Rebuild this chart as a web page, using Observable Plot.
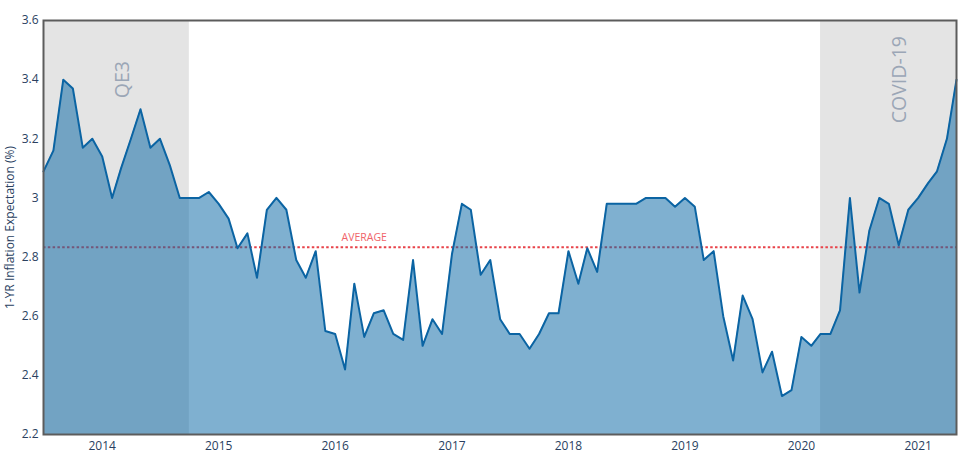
<!DOCTYPE html>
<html>
<head>
<meta charset="utf-8">
<script src="https://cdn.jsdelivr.net/npm/d3@7"></script>
<script src="https://cdn.jsdelivr.net/npm/@observablehq/plot@0.6"></script>
<style>
  html, body { margin: 0; padding: 0; background: #fff; }
  #chart svg { display: block; }
</style>
</head>
<body>
<div id="chart"></div>
<script>
// Monthly 1-year inflation expectation, Jul 2013 – May 2021
const firstMonth = "2013-07-01";
const values = [
  3.09, 3.16, 3.40, 3.37, 3.17, 3.20,                                   // 2013 Jul-Dec
  3.14, 3.00, 3.10, 3.20, 3.30, 3.17, 3.20, 3.11, 3.00, 3.00, 3.00, 3.02, // 2014
  2.98, 2.93, 2.83, 2.88, 2.73, 2.96, 3.00, 2.96, 2.79, 2.73, 2.82, 2.55, // 2015
  2.54, 2.42, 2.71, 2.53, 2.61, 2.62, 2.54, 2.52, 2.79, 2.50, 2.59, 2.54, // 2016
  2.81, 2.98, 2.96, 2.74, 2.79, 2.59, 2.54, 2.54, 2.49, 2.54, 2.61, 2.61, // 2017
  2.82, 2.71, 2.83, 2.75, 2.98, 2.98, 2.98, 2.98, 3.00, 3.00, 3.00, 2.97, // 2018
  3.00, 2.97, 2.79, 2.82, 2.60, 2.45, 2.67, 2.59, 2.41, 2.48, 2.33, 2.35, // 2019
  2.53, 2.50, 2.54, 2.54, 2.62, 3.00, 2.68, 2.89, 3.00, 2.98, 2.84, 2.96, // 2020
  3.00, 3.05, 3.09, 3.20, 3.40                                           // 2021 Jan-May
];
const averageValue = 2.833;
const averageLabel = "AVERAGE";

const periodNames = ["QE3", "COVID-19"];
const periodStarts = ["2013-07-01", "2020-03-01"];
const periodEnds = ["2014-10-01", "2021-05-01"];
const periodLabelDates = ["2014-03-05", "2020-11-05"];
const periodLabelValue = 3.4;

const yTicks = [2.2, 2.4, 2.6, 2.8, 3, 3.2, 3.4, 3.6];
const xTickYears = [2014, 2015, 2016, 2017, 2018, 2019, 2020, 2021];
const yTitle = "1-YR Inflation Expectation (%)";

const start = new Date(firstMonth);
const data = values.map((v, i) => ({ date: d3.utcMonth.offset(start, i), value: v }));
const periods = periodNames.map((n, i) => ({
  name: n, start: new Date(periodStarts[i]), end: new Date(periodEnds[i]),
  labelDate: new Date(periodLabelDates[i]), labelValue: periodLabelValue
}));
const xTicks = xTickYears.map(y => new Date(Date.UTC(y, 0, 1)));

const lineColor = "#0b64a3";

const chart = Plot.plot({
  width: 970,
  height: 466,
  marginLeft: 43,
  marginRight: 14,
  marginTop: 20,
  marginBottom: 32,
  style: { fontFamily: "'Open Sans', sans-serif", fontSize: "12px", color: "#2a3f5f", background: "#fff", overflow: "visible" },
  x: { type: "utc", domain: [start, data[data.length - 1].date] },
  y: { domain: [2.2, 3.6] },
  marks: [
    Plot.rect(periods, { x1: "start", x2: "end", fill: "#e4e4e4" }),
    Plot.ruleY([averageValue], { stroke: "#e8434a", strokeWidth: 2, strokeDasharray: "2.5,2.3" }),
    Plot.text([averageValue], { x: new Date("2016-04-01"), y: d => d, text: () => averageLabel, dy: -10, fill: "#f0636a", fontSize: 10.5 }),
    Plot.areaY(data, { x: "date", y1: 2.2, y2: "value", fill: "#0967a5", fillOpacity: 0.52 }),
    Plot.line(data, { x: "date", y: "value", stroke: lineColor, strokeWidth: 2 }),
    Plot.text(periods, { x: "labelDate", y: "labelValue", text: "name", rotate: -90, fill: "#9ba6b6", fontSize: 19.5 }),
    Plot.axisX({ ticks: xTicks, tickFormat: d3.utcFormat("%Y"), tickSize: 0, tickPadding: 7, label: null, fontSize: 12 }),
    Plot.axisY({ ticks: yTicks, tickFormat: d => String(+d.toFixed(1)), tickSize: 0, tickPadding: 5,
      label: yTitle, labelAnchor: "center", labelArrow: "none", labelOffset: 38, fontSize: 12 }),
    Plot.frame({ stroke: "#5c5c5c", strokeWidth: 2 })
  ]
});
document.getElementById("chart").appendChild(chart);
</script>
</body>
</html>
